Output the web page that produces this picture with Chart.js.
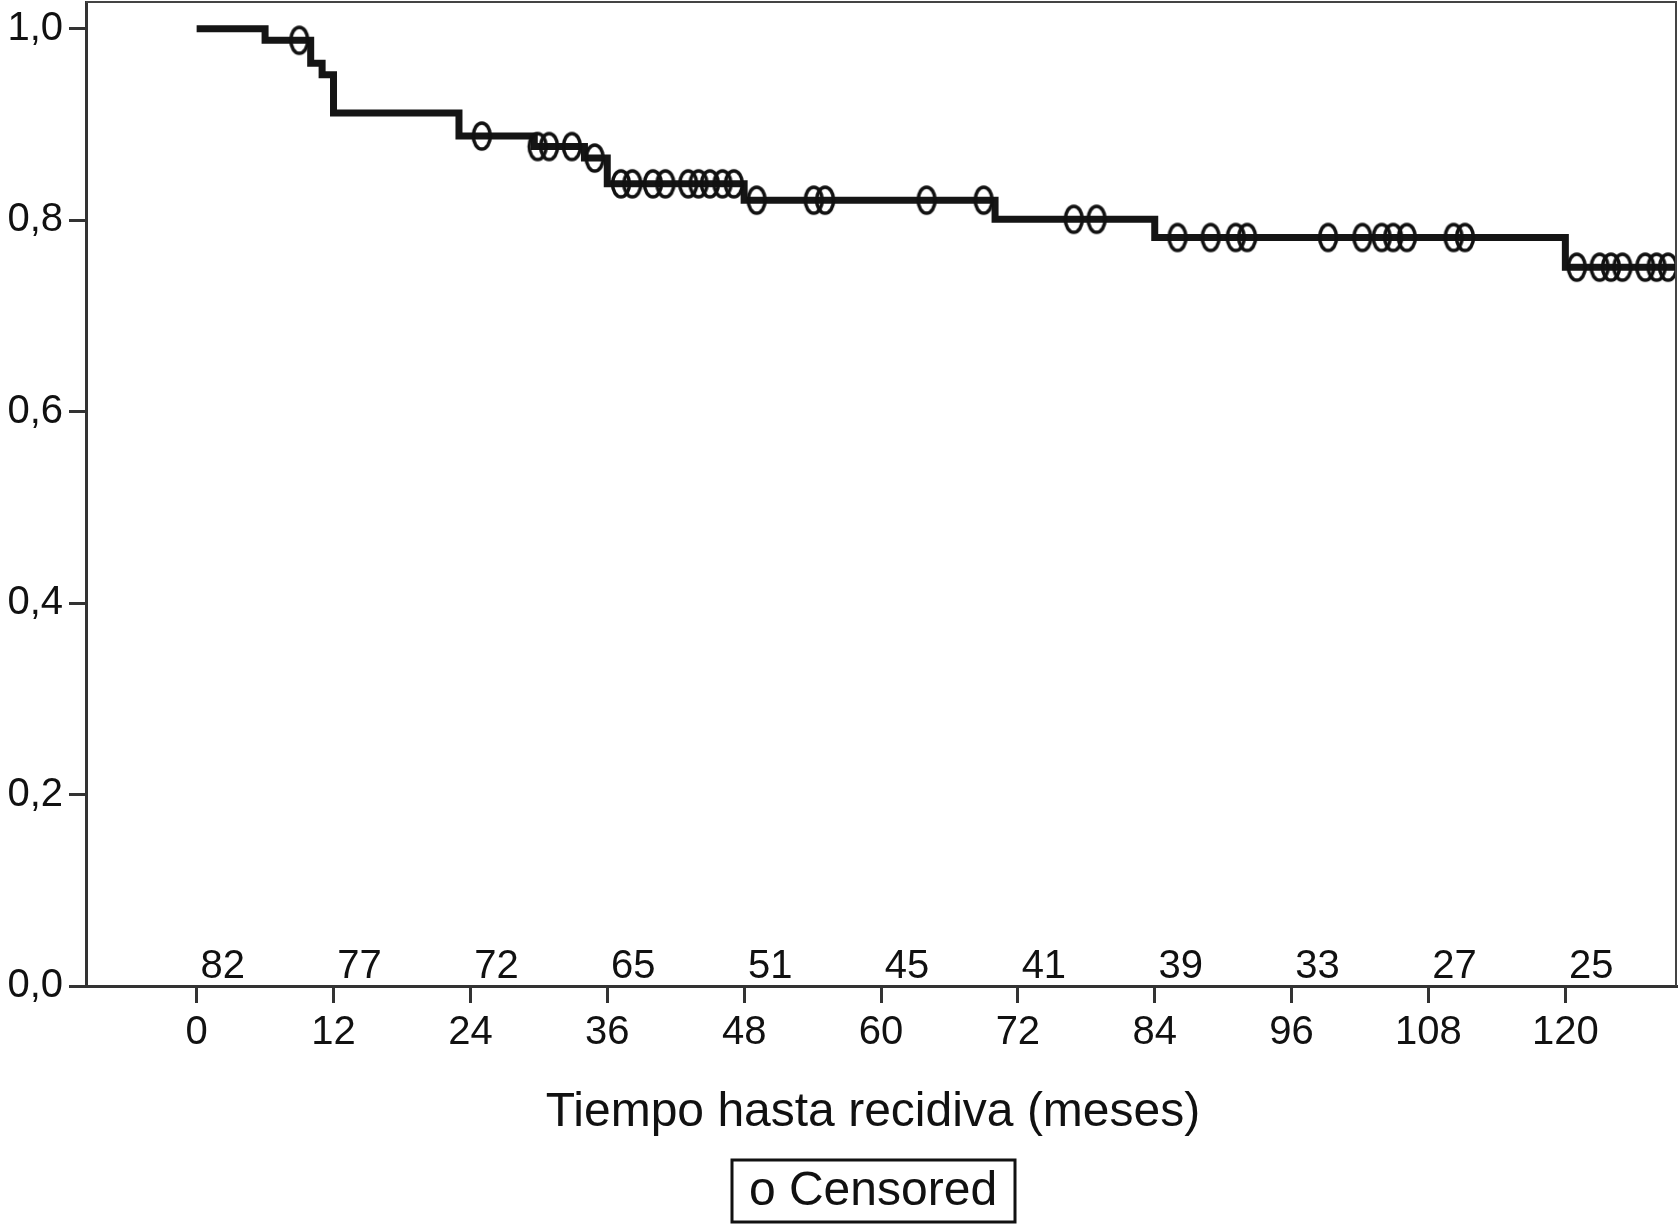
<!DOCTYPE html>
<html>
<head>
<meta charset="utf-8">
<script src="https://cdn.jsdelivr.net/npm/chart.js@4/dist/chart.umd.min.js"></script>
<style>
  html, body { margin: 0; padding: 0; background: #fff; }
  #wrap { width: 1679px; height: 1224px; position: relative; }
</style>
</head>
<body>
<div id="wrap"><canvas id="km"></canvas></div>
<script>
// curva de Kaplan-Meier: tiempo de cada escalón y supervivencia tras él
const stepTimes = [0, 6, 10, 11, 12, 23, 29.6, 34, 36, 48, 70, 84, 120, 130];
const stepSurv = [1.0, 0.988, 0.964, 0.952, 0.912, 0.888, 0.877, 0.865, 0.838, 0.821, 0.801, 0.782, 0.751, 0.751];

// pacientes censurados
const censorTimes = [9, 25, 29.9, 30.9, 32.9, 34.9, 37.2, 38.2, 40, 41.1, 43.1, 44, 45, 46.1, 47.1,
  49.1, 54.1, 55.1, 64, 69, 76.9, 78.9, 86, 88.9, 91.1, 92.1, 99.2, 102.2, 103.9, 104.9, 106.1,
  110.2, 111.2, 121, 123, 124, 125, 127, 128, 129];
const censorSurv = [0.988, 0.888, 0.877, 0.877, 0.877, 0.865, 0.838, 0.838, 0.838, 0.838, 0.838,
  0.838, 0.838, 0.838, 0.838, 0.821, 0.821, 0.821, 0.821, 0.821, 0.801, 0.801, 0.782, 0.782, 0.782,
  0.782, 0.782, 0.782, 0.782, 0.782, 0.782, 0.782, 0.782, 0.751, 0.751, 0.751, 0.751, 0.751, 0.751, 0.751];

// pacientes en riesgo
const riskTimes = [0, 12, 24, 36, 48, 60, 72, 84, 96, 108, 120];
const atRisk = [82, 77, 72, 65, 51, 45, 41, 39, 33, 27, 25];

const xTicks = [0, 12, 24, 36, 48, 60, 72, 84, 96, 108, 120];
const yTicks = [0, 0.2, 0.4, 0.6, 0.8, 1.0];
const yTickLabels = ["0,0", "0,2", "0,4", "0,6", "0,8", "1,0"];

const FONT = "'Liberation Sans', Arial, Helvetica, sans-serif";
const INK = "#111";

const censorMark = () => {
  const c = document.createElement("canvas");
  c.width = 26;
  c.height = 36;
  const g = c.getContext("2d");
  g.lineWidth = 3.5;
  g.strokeStyle = INK;
  g.beginPath();
  g.ellipse(13, 18, 8.5, 13, 0, 0, Math.PI * 2);
  g.stroke();
  return c;
};

const extras = {
  id: "extras",
  afterDraw(chart) {
    const { ctx, chartArea: a, scales } = chart;
    ctx.save();
    // marco superior y derecho
    ctx.strokeStyle = "#444";
    ctx.lineWidth = 2;
    ctx.beginPath();
    ctx.moveTo(a.left, a.top);
    ctx.lineTo(a.right, a.top);
    ctx.lineTo(a.right, a.bottom);
    ctx.stroke();

    // números en riesgo
    ctx.fillStyle = INK;
    ctx.font = "40px " + FONT;
    ctx.textAlign = "center";
    ctx.textBaseline = "alphabetic";
    riskTimes.forEach((t, i) => {
      ctx.fillText(String(atRisk[i]), scales.x.getPixelForValue(t) + 26, a.bottom - 8);
    });

    // título del eje
    ctx.font = "48px " + FONT;
    ctx.textBaseline = "middle";
    ctx.fillText("Tiempo hasta recidiva (meses)", 873, 1113);

    // leyenda
    ctx.lineWidth = 3;
    ctx.strokeStyle = INK;
    ctx.strokeRect(732, 1160, 283, 62);
    ctx.fillText("o Censored", 873, 1192);
    ctx.restore();
  },
};

new Chart(document.getElementById("km"), {
  data: {
    datasets: [
      {
        type: "scatter",
        data: censorTimes.map((t, i) => ({ x: t, y: censorSurv[i] })),
        pointStyle: censorMark(),
        pointRadius: 12,
      },
      {
        type: "line",
        data: stepTimes.map((t, i) => ({ x: t, y: stepSurv[i] })),
        stepped: true,
        borderColor: "#151515",
        borderWidth: 7,
        borderCapStyle: "butt",
        borderJoinStyle: "miter",
        pointRadius: 0,
        fill: false,
      },
    ],
  },
  options: {
    responsive: true,
    maintainAspectRatio: false,
    animation: false,
    layout: { autoPadding: false, padding: { top: 2, right: 3, left: 0, bottom: 0 } },
    plugins: { legend: { display: false }, tooltip: { enabled: false } },
    scales: {
      x: {
        type: "linear",
        min: -9.7,
        max: 129.7,
        afterBuildTicks: (s) => { s.ticks = xTicks.map((v) => ({ value: v })); },
        afterFit: (s) => { s.height = 238; s.paddingLeft = 0; s.paddingRight = 0; },
        border: { display: true, color: "#333", width: 3 },
        grid: { drawOnChartArea: false, drawTicks: true, tickLength: 17, color: "#333", lineWidth: 3 },
        ticks: { color: INK, font: { family: FONT, size: 40 }, padding: 6, maxRotation: 0, autoSkip: false },
      },
      y: {
        type: "linear",
        min: 0,
        max: 1.028,
        afterBuildTicks: (s) => { s.ticks = yTicks.map((v) => ({ value: v })); },
        afterFit: (s) => { s.width = 86; s.paddingTop = 0; s.paddingBottom = 0; },
        border: { display: true, color: "#333", width: 3 },
        grid: { drawOnChartArea: false, drawTicks: true, tickLength: 17, color: "#333", lineWidth: 3 },
        ticks: {
          color: INK,
          font: { family: FONT, size: 40 },
          padding: 6,
          autoSkip: false,
          callback: (v, i) => yTickLabels[i],
        },
      },
    },
  },
  plugins: [extras],
});
</script>
</body>
</html>
